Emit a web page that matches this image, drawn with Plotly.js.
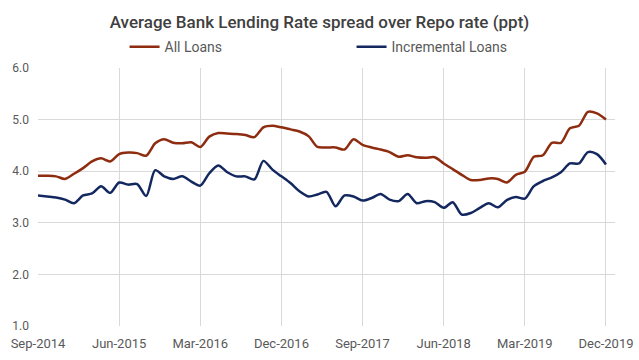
<!DOCTYPE html>
<html>
<head>
<meta charset="utf-8">
<script src="https://cdn.plot.ly/plotly-3.0.1.min.js"></script>
<style>html,body{margin:0;padding:0;background:#fff;}#chart{width:639px;height:360px;}</style>
</head>
<body>
<div id="chart"></div>
<script>
// Months Sep-2014 .. Dec-2019
const months = ["Sep-2014","Oct-2014","Nov-2014","Dec-2014","Jan-2015","Feb-2015","Mar-2015","Apr-2015","May-2015","Jun-2015","Jul-2015","Aug-2015",
"Sep-2015","Oct-2015","Nov-2015","Dec-2015","Jan-2016","Feb-2016","Mar-2016","Apr-2016","May-2016","Jun-2016","Jul-2016","Aug-2016",
"Sep-2016","Oct-2016","Nov-2016","Dec-2016","Jan-2017","Feb-2017","Mar-2017","Apr-2017","May-2017","Jun-2017","Jul-2017","Aug-2017",
"Sep-2017","Oct-2017","Nov-2017","Dec-2017","Jan-2018","Feb-2018","Mar-2018","Apr-2018","May-2018","Jun-2018","Jul-2018","Aug-2018",
"Sep-2018","Oct-2018","Nov-2018","Dec-2018","Jan-2019","Feb-2019","Mar-2019","Apr-2019","May-2019","Jun-2019","Jul-2019","Aug-2019",
"Sep-2019","Oct-2019","Nov-2019","Dec-2019"];

const allLoans = [3.91,3.91,3.90,3.85,3.95,4.06,4.19,4.25,4.19,4.33,4.36,4.35,
4.30,4.54,4.62,4.55,4.54,4.56,4.47,4.67,4.74,4.73,4.72,4.70,
4.66,4.85,4.88,4.85,4.81,4.77,4.68,4.47,4.46,4.46,4.42,4.62,
4.51,4.46,4.42,4.37,4.28,4.31,4.27,4.26,4.27,4.15,4.04,3.93,
3.83,3.83,3.86,3.85,3.78,3.93,3.99,4.28,4.31,4.55,4.55,4.83,
4.88,5.15,5.12,5.00];

const incrementalLoans = [3.53,3.51,3.49,3.45,3.38,3.53,3.57,3.71,3.58,3.78,3.74,3.75,
3.52,4.02,3.90,3.85,3.90,3.80,3.72,3.96,4.11,3.98,3.90,3.90,
3.84,4.20,4.03,3.90,3.77,3.61,3.51,3.55,3.60,3.32,3.53,3.51,
3.43,3.48,3.56,3.45,3.42,3.56,3.38,3.42,3.40,3.29,3.40,3.16,
3.19,3.29,3.38,3.30,3.44,3.50,3.47,3.71,3.81,3.88,3.98,4.15,
4.15,4.37,4.33,4.13];

const tickLabels = ["Sep-2014","Jun-2015","Mar-2016","Dec-2016","Sep-2017","Jun-2018","Mar-2019","Dec-2019"];
const yTicks = [1,2,3,4,5,6];

const idx = months.map((m,i)=>i);
const tickIdx = tickLabels.map(t=>months.indexOf(t));

const traces = [
  {x: idx, y: allLoans, name: "All Loans", type: "scatter", mode: "lines",
   line: {color: "#8E2C10", width: 2.5, shape: "spline", smoothing: 0.8}},
  {x: idx, y: incrementalLoans, name: "Incremental Loans", type: "scatter", mode: "lines",
   line: {color: "#142860", width: 2.5, shape: "spline", smoothing: 0.8}}
];

const layout = {
  width: 639, height: 360,
  margin: {l: 38, r: 24, t: 68, b: 34},
  paper_bgcolor: "#ffffff", plot_bgcolor: "#ffffff",
  font: {family: "Roboto, 'Open Sans', sans-serif", size: 12, color: "#595959"},
  title: {text: "Average Bank Lending Rate spread over Repo rate (ppt)",
          font: {family: "Roboto, sans-serif", size: 17, color: "#404040", weight: 500},
          x: 0.5, xanchor: "center", y: 0.94, yanchor: "middle"},
  showlegend: true,
  legend: {orientation: "h", x: 0.15, xanchor: "left", y: 1.081, yanchor: "middle",
           font: {size: 14, color: "#595959"}, entrywidth: 182,
           bgcolor: "rgba(0,0,0,0)"},
  xaxis: {range: [0, 64], tickmode: "array", tickvals: tickIdx, ticktext: tickLabels,
          showgrid: true, gridcolor: "#d9d9d9", gridwidth: 1, zeroline: false,
          showline: false, ticks: "", ticklabelstandoff: 8,
          tickfont: {size: 13, color: "#595959"}, fixedrange: true},
  yaxis: {range: [1, 6], tickmode: "array", tickvals: yTicks, ticktext: yTicks.map(v=>v.toFixed(1)),
          showgrid: true, gridcolor: "#d9d9d9", gridwidth: 1, zeroline: false,
          showline: false, ticks: "", ticklabelstandoff: 8,
          tickfont: {size: 12, color: "#595959"}}
};

Plotly.newPlot("chart", traces, layout, {staticPlot: true, displayModeBar: false});
</script>
</body>
</html>
